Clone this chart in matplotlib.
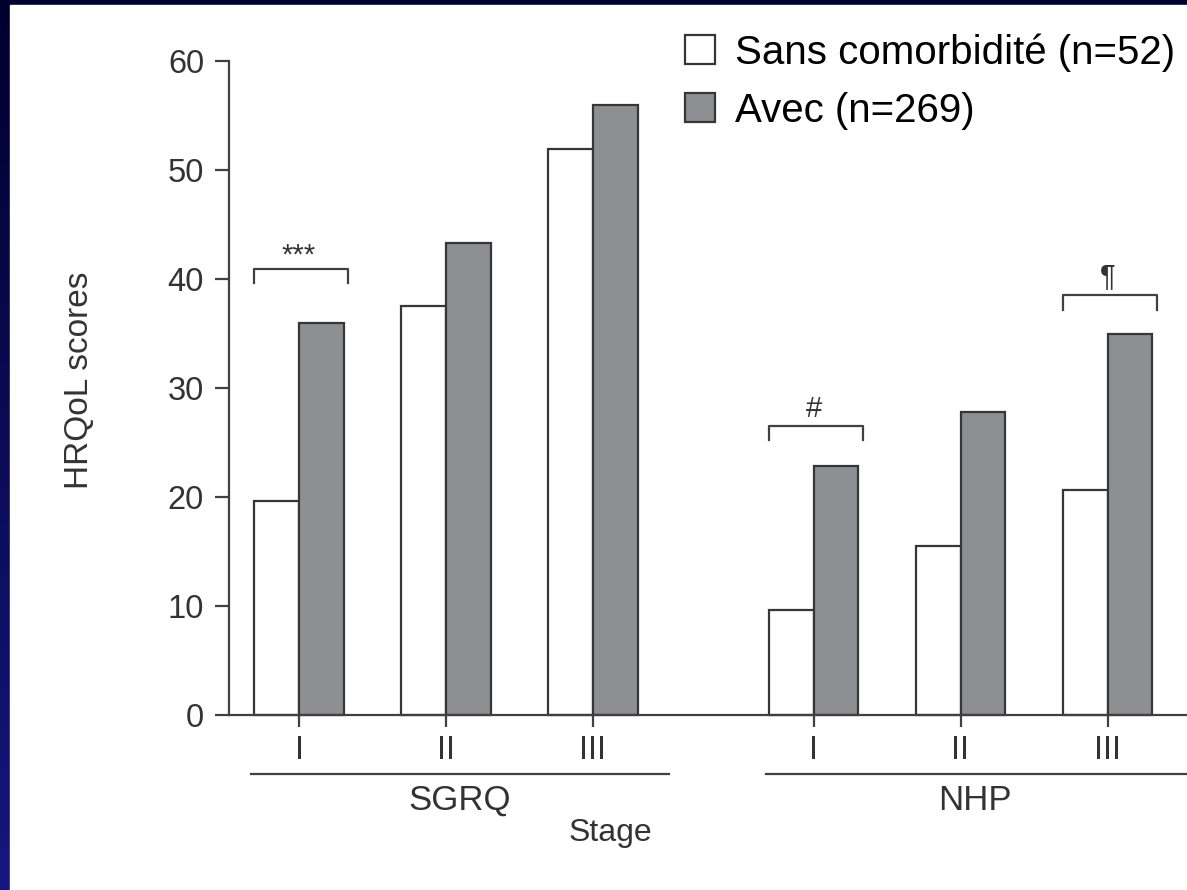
import numpy as np
import matplotlib
matplotlib.use("Agg")
import matplotlib.pyplot as plt
from matplotlib.patches import Rectangle
from matplotlib.lines import Line2D
from matplotlib.colors import LinearSegmentedColormap

plt.rcParams['font.family'] = ['Liberation Sans', 'DejaVu Sans']

# ---- data ----
instruments = ['SGRQ', 'NHP']
stages = ['I', 'II', 'III']
sans_comorb = [19.6, 37.5, 51.9, 9.6, 15.5, 20.6]
avec_comorb = [36.0, 43.3, 56.0, 22.8, 27.8, 35.0]
legend_labels = ['Sans comorbidité (n=52)', 'Avec (n=269)']
yticks = [0, 10, 20, 30, 40, 50, 60]
# significance marks: (stage position index, label, bracket height, label baseline)
signif = [(0, '***', 40.9, 41.4), (3, '#', 26.5, 27.3), (5, '¶', 38.5, 39.5)]

W, H = 1187, 890
fig = plt.figure(figsize=(W / 100, H / 100), dpi=100)

# background: navy gradient frame + white slide area
bg = fig.add_axes([0, 0, 1, 1], zorder=-10)
grad = np.linspace(0, 1, 256).reshape(-1, 1)
cmap = LinearSegmentedColormap.from_list('navy', ['#00002e', '#16167e'])
bg.imshow(grad, aspect='auto', cmap=cmap, extent=[0, 1, 0, 1], origin='upper')
bg.add_patch(Rectangle((10 / W, 0), 1, 1 - 5 / H, color='white', transform=bg.transAxes))
bg.set_xlim(0, 1); bg.set_ylim(0, 1)
bg.axis('off')

# main axes
px0, unit = 299, 147.0
x_left = (229 - px0) / unit
x_right = (W - px0) / unit
ax = fig.add_axes([229 / W, (H - 715) / H, (W - 229) / W, 654 / H])
ax.set_facecolor('none')
ax.set_xlim(x_left, x_right)
ax.set_ylim(0, 60)

positions = []
for g in range(len(instruments)):
    for i in range(len(stages)):
        positions.append(g * 3.5 + i)
positions = np.array(positions)

bw = 0.305
edge = '#363636'
b1 = ax.bar(positions - bw / 2, sans_comorb, width=bw, color='white', edgecolor=edge,
            linewidth=1.6, label=legend_labels[0], clip_on=False)
b2 = ax.bar(positions + bw / 2, avec_comorb, width=bw, color='#8e8f93', edgecolor=edge,
            linewidth=1.6, label=legend_labels[1], clip_on=False)

axcol = '#404040'
for s in ['top', 'right']:
    ax.spines[s].set_visible(False)
ax.spines['left'].set_bounds(0, 60)
for s in ['left', 'bottom']:
    ax.spines[s].set_color(axcol)
    ax.spines[s].set_linewidth(1.6)

ax.set_yticks(yticks)
ax.set_yticklabels([str(v) for v in yticks])
ax.set_xticks(positions)
ax.set_xticklabels(stages * len(instruments))
ax.tick_params(axis='y', length=10, width=1.6, color=axcol, pad=8, labelsize=23.5, labelcolor='#333333')
ax.tick_params(axis='x', length=8.5, width=1.6, color=axcol, pad=6, labelsize=23.5, labelcolor='#333333')

ax.set_ylabel('HRQoL scores', fontsize=24, color='#333333', labelpad=0)
ax.yaxis.set_label_coords((95 - 229) / (W - 229), (715 - 380) / 654)

# group lines and labels
ypx = lambda py: (715 - py) / 10.9
group_spans = [(-0.327, 2.517), (3.177, 6.2)]
label_x = [None, 4.6]
for (a, b), name, lx in zip(group_spans, instruments, label_x):
    ax.add_line(Line2D([a, b], [ypx(774), ypx(774)], color=axcol, lw=1.6, clip_on=False))
    ax.text((a + b) / 2 if lx is None else lx, ypx(800), name, ha='center', va='center',
            fontsize=25, color='#333333', clip_on=False)
ax.text((610 - px0) / unit, ypx(833), 'Stage', ha='center', va='center', fontsize=23,
        color='#333333', clip_on=False)

# significance brackets
for idx, mark, yb, yt in signif:
    p = positions[idx]
    a, b = p - bw, p + bw + 0.03
    ax.add_line(Line2D([a, a, b, b], [yb - 1.3, yb, yb, yb - 1.3], color=axcol, lw=1.6,
                       clip_on=False))
    ax.text(p, yt, mark, ha='center', va='baseline', fontsize=21, color='#333333')

# legend
leg = ax.legend(handles=[b1, b2], labels=legend_labels, loc='upper left',
                bbox_to_anchor=(685 / W, 1 - 33 / H), bbox_transform=fig.transFigure,
                frameon=False, fontsize=29, handlelength=0.74, handleheight=0.74,
                handletextpad=0.5, labelspacing=0.5, borderpad=0, borderaxespad=0)
for t in leg.get_texts():
    t.set_color('black')

fig.savefig('out.png', dpi=100)
